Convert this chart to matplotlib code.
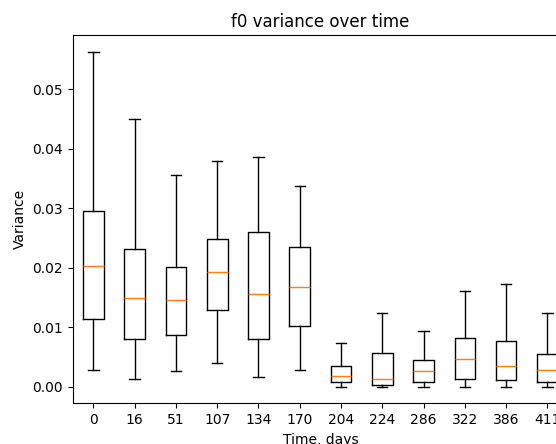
import matplotlib
matplotlib.use("Agg")
from matplotlib import pyplot as plt

# time points (days)
days = ["0", "16", "51", "107", "134", "170", "204", "224", "286", "322", "386", "411"]

# box statistics
whislo = [0.0028, 0.0012, 0.0026, 0.0039, 0.0016, 0.0028, 0.0, 0.0, 0.0, 0.0, 0.0, 0.0]
q1 = [0.0113, 0.0080, 0.0086, 0.0128, 0.0080, 0.0101, 0.0007, 0.0003, 0.0008, 0.0013, 0.0011, 0.0007]
med = [0.0203, 0.0149, 0.0146, 0.0193, 0.0155, 0.0168, 0.0017, 0.0012, 0.0026, 0.0047, 0.0034, 0.0028]
q3 = [0.0295, 0.0232, 0.0201, 0.0248, 0.0260, 0.0234, 0.0034, 0.0056, 0.0044, 0.0081, 0.0076, 0.0054]
whishi = [0.0563, 0.0450, 0.0356, 0.0379, 0.0386, 0.0337, 0.0073, 0.0123, 0.0094, 0.0161, 0.0173, 0.0124]

stats = []
for i in range(len(days)):
    stats.append({"label": days[i], "whislo": whislo[i], "q1": q1[i], "med": med[i],
                  "q3": q3[i], "whishi": whishi[i], "fliers": []})

fig = plt.figure(figsize=(5.56, 4.44), dpi=100)
# the axes run past the right edge, as in the (cropped) reference
ax = fig.add_axes([0.1308, 0.0917, 0.8908, 0.8295])
ax.bxp(stats, showfliers=False)
ax.set_title("f0 variance over time")
ax.set_xlabel("Time, days")
ax.set_ylabel("Variance")

fig.savefig("out.png", dpi=100)
